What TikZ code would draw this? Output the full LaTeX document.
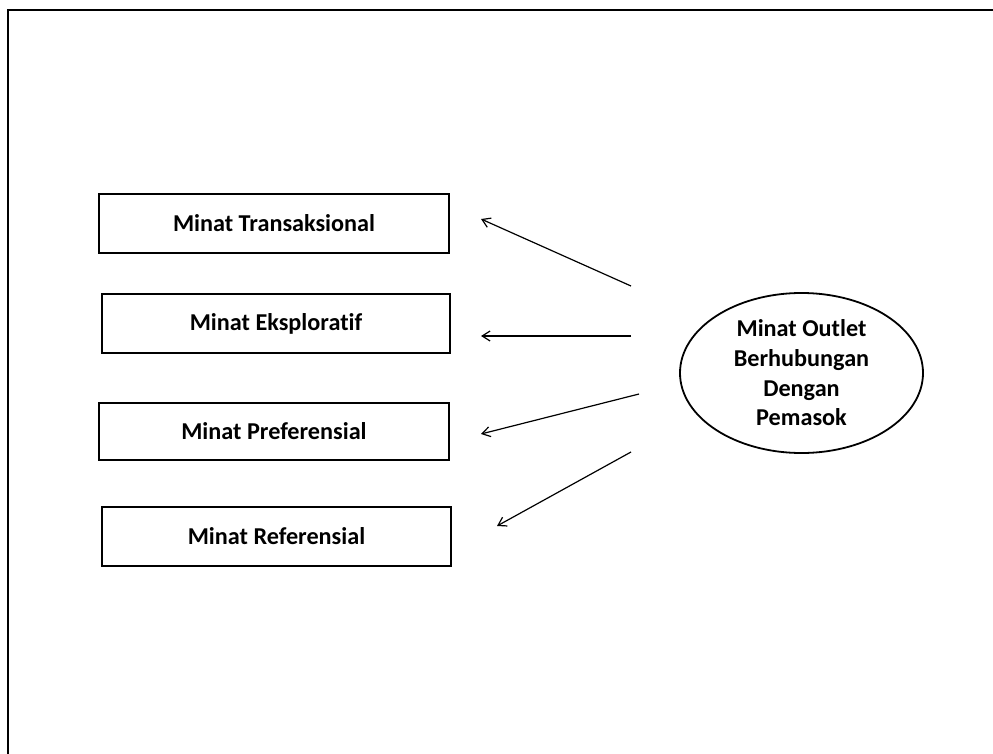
\documentclass[tikz,border=0pt]{standalone}
\usepackage{fontspec}
\setmainfont[Ligatures={NoCommon,NoRare,NoDiscretionary}]{Carlito}
\usetikzlibrary{arrows.meta,shapes.geometric}

\tikzset{
  interest/.style={draw=black, line width=2.2bp, rectangle, inner sep=0pt,
    font=\bfseries\fontsize{24.3}{29.5}\selectfont},
  construct/.style={draw=black, line width=1.8bp, ellipse, inner sep=0pt,
    minimum width=243bp, minimum height=160bp, align=center,
    font=\bfseries\fontsize{24.3}{29.8}\selectfont},
  link/.style={draw=black, line width=1.2bp,
    -{Straight Barb[length=8bp,width=10bp,line width=1.2bp]}},
  frame/.style={draw=black, line width=2bp}
}

\begin{document}
\begin{tikzpicture}[x=1bp, y=-1bp]
  \useasboundingbox (0,0) rectangle (993,754);

  % outer frame (top and left edges inside the page)
  \draw[frame] (7.5,754) -- (7.5,10.5) -- (993,10.5);

  % the four kinds of interest
  \node[interest, minimum width=350bp, minimum height=59bp] (trans) at (274,223.5) {Minat Transaksional};
  \node[interest, minimum width=348bp, minimum height=59bp] (eksp) at (276,323.5) {Minat Eksplorat\kern0pt{}if};
  \node[interest, minimum width=350bp, minimum height=57bp] (pref) at (274,431.5) {Minat Preferensial};
  \node[interest, minimum width=349bp, minimum height=59bp] (ref) at (276.5,536.5) {Minat Referensial};

  % the construct
  \node[construct] (outlet) at (801.5,373) {Minat Outlet\\Berhubungan\\Dengan\\Pemasok};

  % arrow end points
  \coordinate (s1) at (631,286);
  \coordinate (t1) at (481,219);
  \coordinate (s2) at (631,336);
  \coordinate (t2) at (481,336);
  \coordinate (s3) at (639,394);
  \coordinate (t3) at (481,434);
  \coordinate (s4) at (631,452);
  \coordinate (t4) at (497,526);

  \draw[link] (s1) -- (t1);
  \draw[link] (s2) -- (t2);
  \draw[link] (s3) -- (t3);
  \draw[link] (s4) -- (t4);
\end{tikzpicture}
\end{document}
